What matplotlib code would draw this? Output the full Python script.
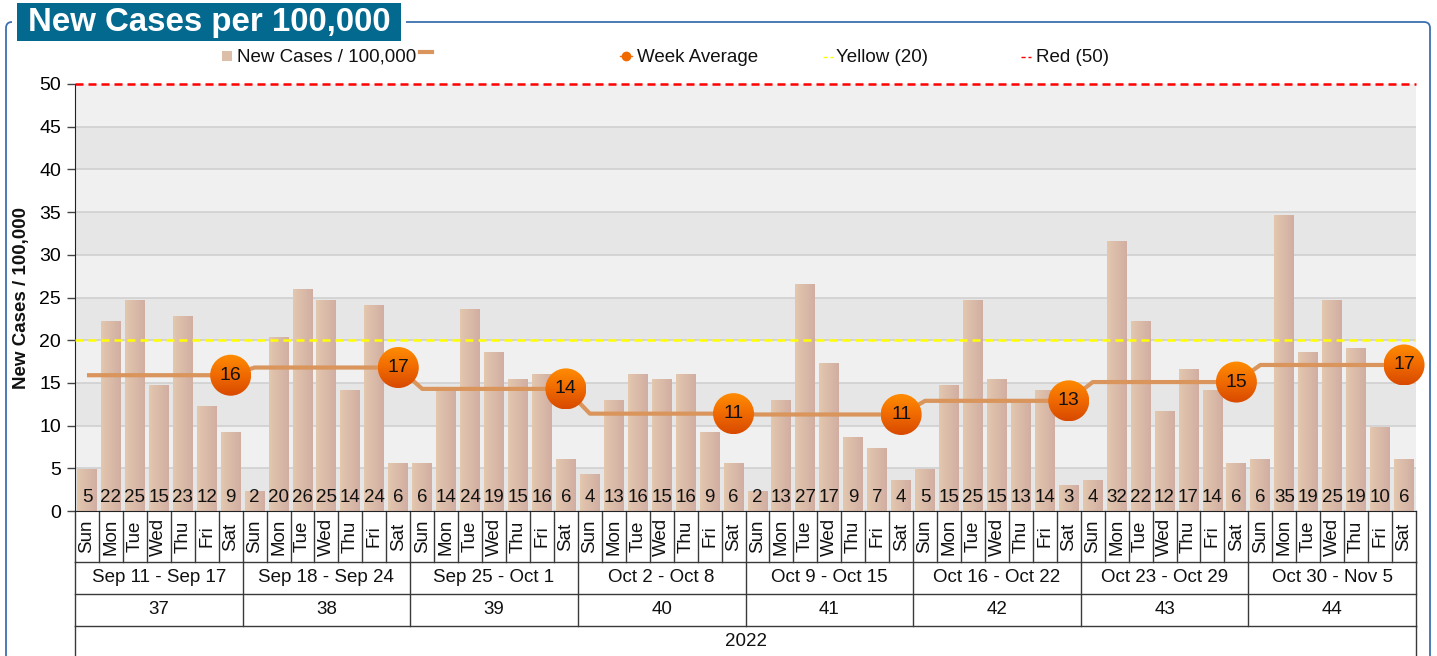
import numpy as np
import matplotlib
matplotlib.use("Agg")
import matplotlib.pyplot as plt
from matplotlib.colors import LinearSegmentedColormap
from matplotlib.patches import Ellipse, Rectangle, FancyBboxPatch
from matplotlib.lines import Line2D
from matplotlib.transforms import blended_transform_factory, Affine2D

plt.rcParams['font.family'] = ['Liberation Sans', 'DejaVu Sans']

# ---------------- data ----------------
days = ['Sun', 'Mon', 'Tue', 'Wed', 'Thu', 'Fri', 'Sat']
week_ranges = ['Sep 11 - Sep 17', 'Sep 18 - Sep 24', 'Sep 25 - Oct 1', 'Oct 2 - Oct 8',
               'Oct 9 - Oct 15', 'Oct 16 - Oct 22', 'Oct 23 - Oct 29', 'Oct 30 - Nov 5']
week_numbers = ['37', '38', '39', '40', '41', '42', '43', '44']
year_label = '2022'

new_cases = [4.9, 22.2, 24.7, 14.8, 22.8, 12.3, 9.2,
             2.4, 20.4, 26.0, 24.7, 14.2, 24.1, 5.6,
             5.6, 14.2, 23.6, 18.6, 15.4, 16.0, 6.1,
             4.3, 13.0, 16.0, 15.4, 16.0, 9.2, 5.6,
             2.4, 13.0, 26.6, 17.3, 8.7, 7.4, 3.6,
             4.9, 14.8, 24.7, 15.4, 12.8, 14.2, 3.0,
             3.6, 31.6, 22.2, 11.7, 16.6, 14.2, 5.6,
             6.1, 34.7, 18.6, 24.7, 19.1, 9.8, 6.1]
week_average = [15.9, 16.8, 14.3, 11.4, 11.3, 12.9, 15.1, 17.1]
yellow_level = 20
red_level = 50

# ---------------- figure ----------------
W, H = 1437, 656
fig = plt.figure(figsize=(W / 100, H / 100), dpi=100)
px = Affine2D().scale(1 / W, 1 / H) + fig.transFigure  # pixel coords (origin bottom-left)

ax_l, ax_r, ax_t, ax_b = 75, 1416, 84, 511
ax = fig.add_axes([ax_l / W, (H - ax_b) / H, (ax_r - ax_l) / W, (ax_b - ax_t) / H])

n_days = len(new_cases)
x = np.arange(n_days)

# background bands + grid
for k in range(10):
    ax.axhspan(5 * k, 5 * k + 5, color='#E6E6E6' if k % 2 == 0 else '#F0F0F0', zorder=0, lw=0)
for k in range(1, 10):
    ax.axhline(5 * k, color='#D0D0D0', lw=1.2, zorder=0.5)

# bars with horizontal gradient
bar_cmap = LinearSegmentedColormap.from_list('bar', ['#E3C7AE', '#D1AEA2'])
hgrad = np.linspace(0, 1, 64).reshape(1, -1)
bars = ax.bar(x, new_cases, width=0.83, color='none', edgecolor='none', zorder=2)
for b in bars:
    x0, w, h = b.get_x(), b.get_width(), b.get_height()
    im = ax.imshow(hgrad, extent=[x0, x0 + w, 0, h], cmap=bar_cmap, aspect='auto',
                   zorder=2, interpolation='bilinear')
    im.set_clip_path(b)

# bar value labels
for xi, v in zip(x, new_cases):
    ax.text(xi, 1.55, f"{v:.0f}", ha='center', va='center', fontsize=13.5, color='#111', zorder=3)

# threshold lines
ax.axhline(yellow_level, color='#FFFF00', lw=1.8, ls=(0, (3.2, 2.0)), zorder=3)
ax.axhline(red_level, color='#FF0000', lw=1.8, ls=(0, (3.2, 2.0)), zorder=3, clip_on=False)

# week average line
daily_avg = np.repeat(week_average, 7)
ax.plot(x, daily_avg, color='#D9955B', lw=3, zorder=4, solid_capstyle='butt')

# week average markers (gradient circles)
ppx = (ax_r - ax_l) / n_days
ppy = (ax_b - ax_t) / 50
mw, mh = 41 / ppx, 41 / ppy
mk_cmap = LinearSegmentedColormap.from_list('mk', ['#FF8C00', '#F06A00', '#D84A00'])
vgrad = np.linspace(0, 1, 64).reshape(-1, 1)
for wi, avg in enumerate(week_average):
    xm = 7 * wi + 6
    e = Ellipse((xm, avg), mw, mh, facecolor='none', edgecolor='none', zorder=5)
    ax.add_patch(e)
    e.set_clip_on(False)
    im = ax.imshow(vgrad, extent=[xm - mw / 2, xm + mw / 2, avg - mh / 2, avg + mh / 2],
                   cmap=mk_cmap, aspect='auto', zorder=5, interpolation='bilinear')
    im.set_clip_path(e)
    im.set_clip_box(fig.bbox)
    ax.text(xm, avg, f"{avg:.0f}", ha='center', va='center', fontsize=14, color='#111', zorder=6)

ax.set_xlim(-0.5, n_days - 0.5)
ax.set_ylim(0, 50)
ax.set_yticks(range(0, 51, 5))
ax.set_xticks([])
ax.tick_params(axis='y', labelsize=14, length=6, width=1, color='#444', pad=4)
for s in ['top', 'right']:
    ax.spines[s].set_visible(False)
ax.spines['left'].set_color('#222')
ax.spines['bottom'].set_color('#222')

# ---------------- x-axis table ----------------
trans = blended_transform_factory(ax.transData, ax.transAxes)
hpx = ax_b - ax_t
r0, r1, r2, r3, r4 = 0, -51 / hpx, -83 / hpx, -115 / hpx, -0.7
lc, lw = '#3A3A3A', 1.0
for i in range(n_days + 1):
    ax.plot([i - 0.5, i - 0.5], [r0, r1], transform=trans, color=lc, lw=lw, clip_on=False,
            scalex=False, scaley=False)
for wi in range(len(week_ranges) + 1):
    ax.plot([7 * wi - 0.5] * 2, [r1, r3], transform=trans, color=lc, lw=lw, clip_on=False,
            scalex=False, scaley=False)
for xe in [-0.5, n_days - 0.5]:
    ax.plot([xe, xe], [r3, r4], transform=trans, color=lc, lw=lw, clip_on=False,
            scalex=False, scaley=False)
for ry in [r1, r2, r3]:
    ax.plot([-0.5, n_days - 0.5], [ry, ry], transform=trans, color=lc, lw=lw, clip_on=False,
            scalex=False, scaley=False)
for i in range(n_days):
    ax.text(i, (r0 + r1) / 2, days[i % 7], transform=trans, rotation=90, ha='center', va='center',
            fontsize=13.5, color='#111')
for wi in range(len(week_ranges)):
    ax.text(7 * wi + 3, (r1 + r2) / 2, week_ranges[wi], transform=trans, ha='center', va='center',
            fontsize=13.5, color='#111')
    ax.text(7 * wi + 3, (r2 + r3) / 2, week_numbers[wi], transform=trans, ha='center', va='center',
            fontsize=13.5, color='#111')
ax.text((n_days - 1) / 2, -130 / hpx, year_label, transform=trans, ha='center', va='center',
        fontsize=13.5, color='#111')

# y label
fig.text(22 / W, (H - 298) / H, 'New Cases / 100,000', rotation=90, ha='center', va='center',
         fontsize=13.5, fontweight='bold', color='#111')

# ---------------- frame & title ----------------
frame = FancyBboxPatch((6, -30), 1424, H - 22 + 30, boxstyle="round,pad=0,rounding_size=6",
                       transform=px, facecolor='none', edgecolor='#3D70AE', lw=1.3)
fig.patches.append(frame)
fig.patches.append(Rectangle((12, H - 46), 394, 46, transform=px, facecolor='white', edgecolor='none'))
fig.patches.append(Rectangle((17, H - 41), 384, 38, transform=px, facecolor='#03698F', edgecolor='none'))
fig.text(209 / W, (H - 23) / H, 'New Cases per 100,000', ha='center', va='center', fontsize=23.8,
         fontweight='bold', color='white')

# ---------------- legend ----------------
ly = H - 57
fig.patches.append(Rectangle((222, ly - 4), 10, 10, transform=px, facecolor='#DDBFA9', edgecolor='none'))
fig.text(237 / W, ly / H, 'New Cases / 100,000', ha='left', va='center', fontsize=13.5, color='#111')
fig.add_artist(Line2D([420, 432], [ly + 5, ly + 5], transform=px, color='#D9955B', lw=3))
fig.add_artist(Line2D([620, 632], [ly + 1, ly + 1], transform=px, color='#E07020', lw=1))
fig.add_artist(Line2D([626], [ly + 1], transform=px, marker='o', markersize=6, color='#F06A00', lw=0))
fig.text(637 / W, ly / H, 'Week Average', ha='left', va='center', fontsize=13.5, color='#111')
fig.add_artist(Line2D([823, 833], [ly, ly], transform=px, color='#FFFF00', lw=1, ls=(0, (3, 2))))
fig.text(836 / W, ly / H, 'Yellow (20)', ha='left', va='center', fontsize=13.5, color='#111')
fig.add_artist(Line2D([1021, 1031], [ly, ly], transform=px, color='#FF0000', lw=1, ls=(0, (3, 2))))
fig.text(1036 / W, ly / H, 'Red (50)', ha='left', va='center', fontsize=13.5, color='#111')

fig.savefig('out.png', dpi=100)
